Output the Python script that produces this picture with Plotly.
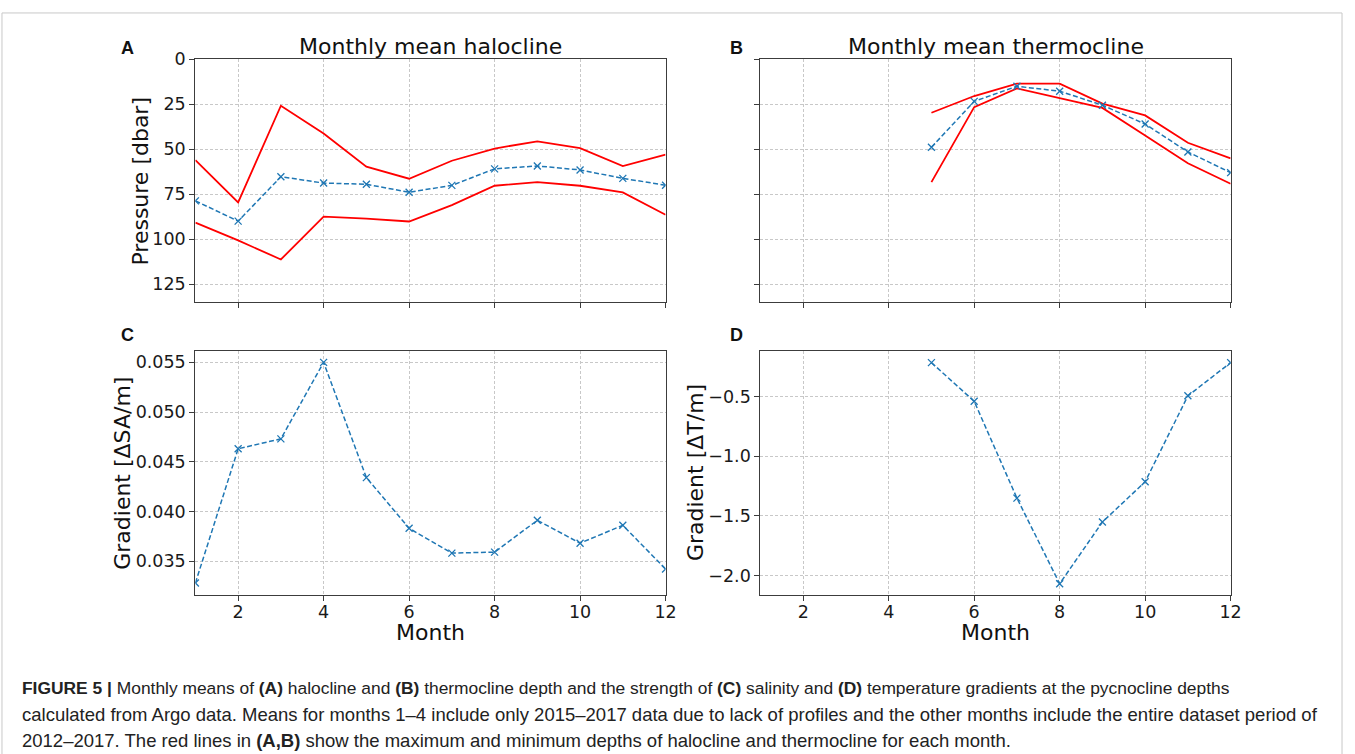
import plotly.graph_objects as go

# ---------------- data ----------------
months = [1, 2, 3, 4, 5, 6, 7, 8, 9, 10, 11, 12]
halo_mean = [78.7, 90.0, 65.3, 68.8, 69.5, 73.9, 70.1, 60.9, 59.3, 61.5, 66.2, 70.0]
halo_min = [56.0, 79.6, 25.8, 41.2, 59.7, 66.4, 56.4, 49.6, 45.6, 49.4, 59.4, 53.0]
halo_max = [90.8, 100.7, 111.3, 87.5, 88.6, 90.2, 81.1, 70.3, 68.3, 70.3, 74.0, 86.4]

thermo_months = [5, 6, 7, 8, 9, 10, 11, 12]
thermo_mean = [48.9, 23.4, 15.0, 17.7, 25.5, 36.0, 51.5, 63.0]
thermo_min = [29.7, 20.4, 13.5, 13.5, 24.6, 31.2, 46.4, 55.1]
thermo_max = [68.3, 26.6, 16.2, 21.7, 27.0, 42.3, 57.8, 69.2]

sal_grad = [0.0328, 0.0463, 0.0473, 0.0550, 0.0434, 0.0383, 0.0358, 0.0359,
            0.0391, 0.0368, 0.0386, 0.0342]
temp_grad = [-0.217, -0.541, -1.352, -2.069, -1.552, -1.215, -0.495, -0.217]

x_ticks = [2, 4, 6, 8, 10, 12]
press_ticks = [0, 25, 50, 75, 100, 125]
sal_ticks = [0.035, 0.040, 0.045, 0.050, 0.055]
temp_ticks = [-2.0, -1.5, -1.0, -0.5]

# ---------------- layout helpers ----------------
W, H = 1355, 754
def px(x):
    return x / W
def py(y):
    return 1 - y / H

BLUE = "#1f77b4"
RED = "#ff0000"
FONT = "DejaVu Sans"

fig = go.Figure()

def mean_trace(x, y, xa, ya):
    return go.Scatter(x=x, y=y, xaxis=xa, yaxis=ya, mode="lines+markers",
                      line=dict(color=BLUE, width=1.5, dash="5px,2.5px"),
                      marker=dict(symbol="x-thin", size=7,
                                  line=dict(color=BLUE, width=1.3)),
                      showlegend=False, hoverinfo="x+y")

def red_trace(x, y, xa, ya):
    return go.Scatter(x=x, y=y, xaxis=xa, yaxis=ya, mode="lines",
                      line=dict(color=RED, width=1.8),
                      showlegend=False, hoverinfo="x+y")

# A
fig.add_trace(red_trace(months, halo_min, "x", "y"))
fig.add_trace(red_trace(months, halo_max, "x", "y"))
fig.add_trace(mean_trace(months, halo_mean, "x", "y"))
# B
fig.add_trace(red_trace(thermo_months, thermo_min, "x2", "y2"))
fig.add_trace(red_trace(thermo_months, thermo_max, "x2", "y2"))
fig.add_trace(mean_trace(thermo_months, thermo_mean, "x2", "y2"))
# C
fig.add_trace(mean_trace(months, sal_grad, "x3", "y3"))
# D
fig.add_trace(mean_trace(thermo_months, temp_grad, "x4", "y4"))

axis_common = dict(
    showline=True, mirror=True, linecolor="#3c3c3c", linewidth=1.3,
    ticks="outside", ticklen=5, tickwidth=1.2, tickcolor="#3c3c3c",
    showgrid=True, gridcolor="#c8c8c8", gridwidth=0.8, griddash="3px,2px",
    zeroline=False, tickfont=dict(family=FONT, size=17.5, color="#1a1a1a"),
    fixedrange=True,
)

left_dom = [px(197), px(671)]
right_dom = [px(766.7), px(1240.7)]
top_dom = [py(296), py(50)]
bot_dom = [py(592.7), py(346)]

xcommon = dict(axis_common, range=[1, 12], tickvals=x_ticks, ticklabelstandoff=-4)

fig.update_layout(
    width=W, height=H,
    margin=dict(l=0, r=0, t=0, b=0),
    paper_bgcolor="white", plot_bgcolor="white",
    showlegend=False,
    xaxis=dict(xcommon, domain=left_dom, anchor="y", showticklabels=False),
    yaxis=dict(axis_common, domain=top_dom, anchor="x", range=[135, 0],
               tickvals=press_ticks),
    xaxis2=dict(xcommon, domain=right_dom, anchor="y2", showticklabels=False),
    yaxis2=dict(axis_common, domain=top_dom, anchor="x2", range=[135, 0],
                tickvals=press_ticks, showticklabels=False),
    xaxis3=dict(xcommon, domain=left_dom, anchor="y3"),
    yaxis3=dict(axis_common, domain=bot_dom, anchor="x3", range=[0.0316, 0.0561],
                tickvals=sal_ticks, tickformat=".3f"),
    xaxis4=dict(xcommon, domain=right_dom, anchor="y4"),
    yaxis4=dict(axis_common, domain=bot_dom, anchor="x4", range=[-2.162, -0.123],
                tickvals=temp_ticks, tickformat=".1f"),
)

annots = []
def text(x, y, s, size, angle=0, xanchor="center", yanchor="middle",
         family=FONT, color="#111111"):
    annots.append(dict(x=px(x), y=py(y), xref="paper", yref="paper", text=s,
                       showarrow=False, textangle=angle, xanchor=xanchor,
                       yanchor=yanchor, font=dict(family=family, size=size, color=color)))

# panel letters
LET = "Liberation Sans, Arial, sans-serif"
text(129, 39, "<b>A</b>", 18, family=LET)
text(743, 39, "<b>B</b>", 18, family=LET)
text(129, 329, "<b>C</b>", 18, family=LET)
text(743, 329, "<b>D</b>", 18, family=LET)

# titles
text(434, 37, "Monthly mean halocline", 22)
text(1004, 37, "Monthly mean thermocline", 22)

# axis titles
text(142, 173, "Pressure [dbar]", 22, angle=-90)
text(124, 469, "Gradient [ΔSA/m]", 22, angle=-90)
text(701, 469, "Gradient [ΔT/m]", 22, angle=-90)
text(434, 631, "Month", 22)
text(1004, 631, "Month", 22)

# caption
CAP = "Liberation Sans, Arial, sans-serif"
cap_lines = [
    "<b>FIGURE 5 |</b> Monthly means of <b>(A)</b> halocline and <b>(B)</b> thermocline depth and the strength of <b>(C)</b> salinity and <b>(D)</b> temperature gradients at the pycnocline depths",
    "calculated from Argo data. Means for months 1–4 include only 2015–2017 data due to lack of profiles and the other months include the entire dataset period of",
    "2012–2017. The red lines in <b>(A,B)</b> show the maximum and minimum depths of halocline and thermocline for each month.",
]
cap_sizes = [17.4, 18.5, 18.5]
for i, line in enumerate(cap_lines):
    text(20, 687 + 26.5 * i, line, cap_sizes[i], xanchor="left", family=CAP,
         color="#222222")

fig.update_layout(annotations=annots)

# light frame around the figure
fig.add_shape(type="rect", xref="paper", yref="paper",
              x0=px(2), x1=px(1353), y0=-0.05, y1=py(3),
              line=dict(color="#c8c8c8", width=1), fillcolor="rgba(0,0,0,0)")

fig.write_html(
    "out.html",
    post_script="document.body.style.margin='0';document.body.style.overflow='hidden';",
)
